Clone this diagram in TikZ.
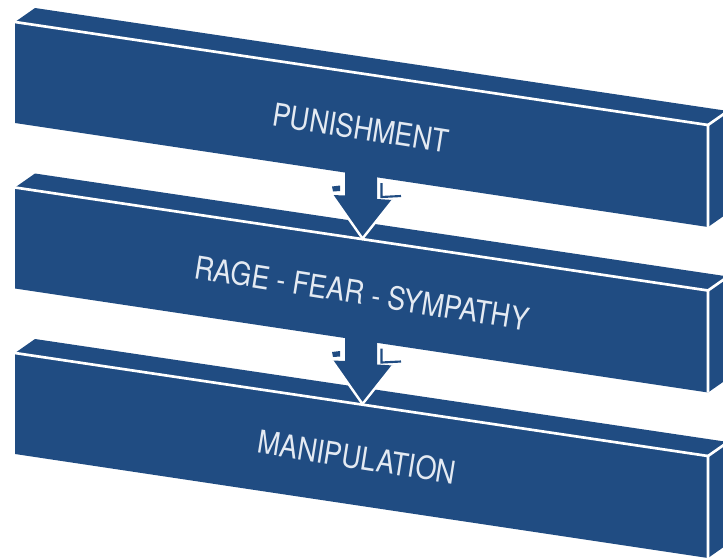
\documentclass[tikz,border=0pt]{standalone}
\usepackage{fontspec}
\setmainfont{TeX Gyre Heros}[FakeStretch=0.85]
\definecolor{barblue}{RGB}{32,76,130}
\definecolor{txtgray}{RGB}{228,234,242}
\tikzset{
  face/.style={fill=barblue},
  edge/.style={draw=white, line width=2pt, line cap=butt},
  bartext/.style={text=txtgray, font=\fontsize{23.8}{26}\selectfont, rotate=-9, inner sep=0pt},
  arrowbody/.style={fill=barblue},
  arrowedge/.style={draw=white, line width=1.8pt, line join=miter},
  shaftmark/.style={draw=barblue, line width=1.6pt}
}
\begin{document}
\begin{tikzpicture}[x=0.75pt,y=-0.75pt]
\useasboundingbox (0,0) rectangle (723,557);
\clip (0,0) rectangle (723,557);
\fill[white] (0,0) rectangle (723,557);
% bars
\foreach \y in {22,187.5,353}{
  \fill[face] (15,\y) -- (35,\y-14) -- (728,\y+89) -- (728,\y+191) -- (708,\y+205) -- (15,\y+101) -- cycle;
  \draw[edge] (15,\y) -- (708,\y+103) -- (708,\y+205);
  \draw[edge] (708,\y+103) -- (728,\y+89);
}
% arrows
\foreach \d in {0,165.5}{
  \begin{scope}[yshift=-0.75*\d pt]
    \coordinate (sl) at (345,160);
    \coordinate (sr) at (377,160);
    \coordinate (bl) at (345,195.5);
    \coordinate (br) at (377,199);
    \coordinate (hl) at (332,195);
    \coordinate (hr) at (393,200);
    \coordinate (tip) at (362.5,238.5);
    \fill[arrowbody] (sr) -- (br) -- (hr) -- (tip) -- (hl) -- (bl) -- (sl) -- cycle;
    \draw[arrowedge] (hr) -- (tip) -- (hl);
    \fill[barblue] (332,186.5) -- (340,185.5) -- (340,191) -- (333,191.5) -- cycle;
    \draw[shaftmark] (381.5,183) -- (381.5,197) -- (401,196);
  \end{scope}
}
% labels
\node[bartext] (n1) at (361,128) {PUNISHMENT};
\node[bartext] (n2) at (362,293) {RAGE - FEAR - SYMPATHY};
\node[bartext] (n3) at (357,457) {MANIPULATION};
\end{tikzpicture}
\end{document}
